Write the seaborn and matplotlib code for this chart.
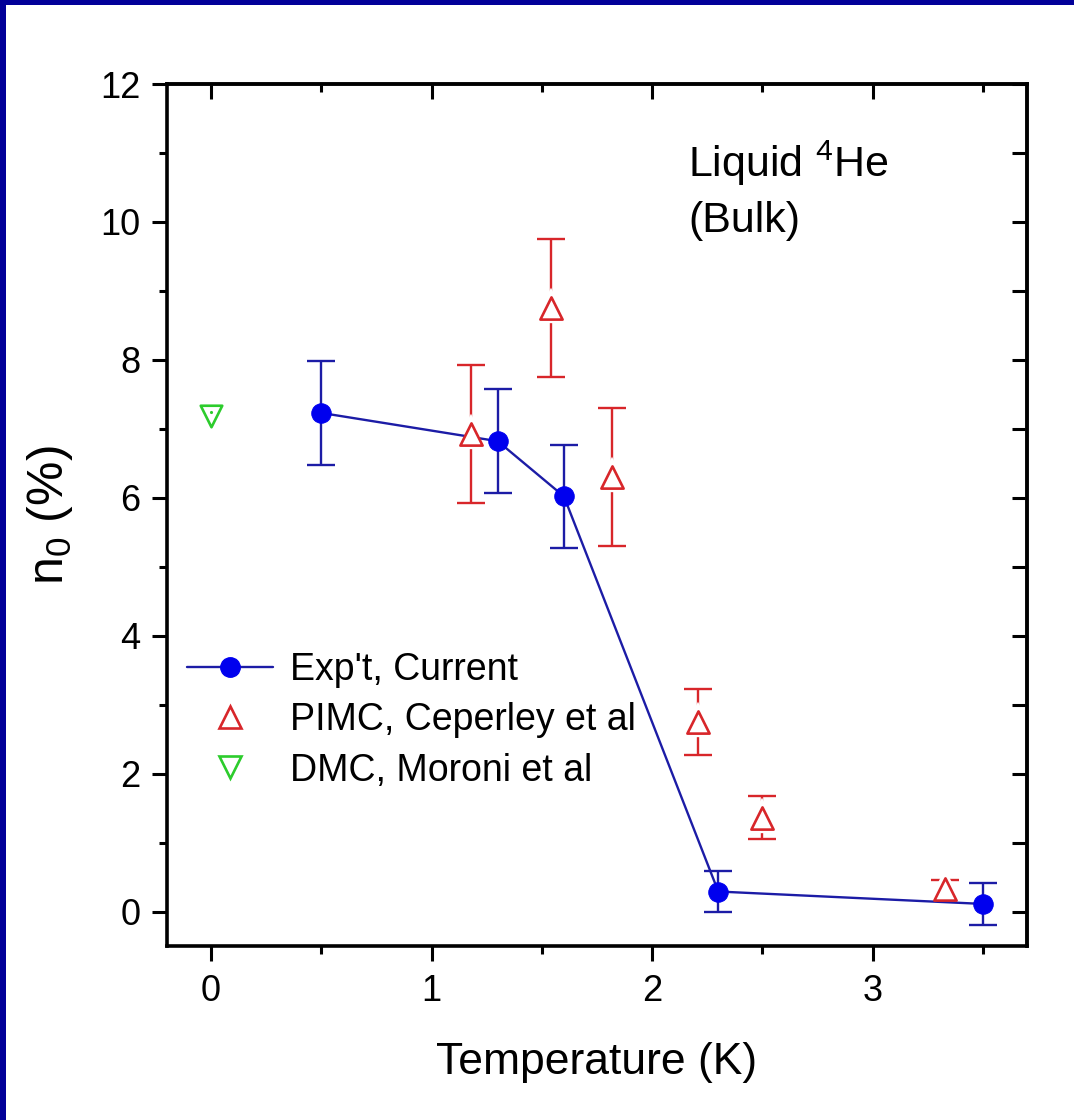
import numpy as np
import pandas as pd
import seaborn as sns
import matplotlib
matplotlib.use("Agg")
import matplotlib.pyplot as plt
from matplotlib.lines import Line2D
from matplotlib.patches import Rectangle
from matplotlib.ticker import MultipleLocator

# ---------------- data ----------------
exp_T = [0.50, 1.30, 1.60, 2.30, 3.50]
exp_n0 = [7.23, 6.82, 6.02, 0.29, 0.11]
exp_err = [0.75, 0.75, 0.75, 0.30, 0.30]

pimc_T = [1.18, 1.54, 1.82, 2.21, 2.50, 3.33]
pimc_n0 = [6.93, 8.75, 6.30, 2.75, 1.36, 0.32]
pimc_err = [1.00, 1.00, 1.00, 0.48, 0.31, 0.14]

dmc_T = [0.0]
dmc_n0 = [7.18]

labels = ["Exp't, Current", "PIMC, Ceperley et al", "DMC, Moroni et al"]
x_ticks = [0, 1, 2, 3]
y_ticks = [0, 2, 4, 6, 8, 10, 12]

# ---------------- style ----------------
sns.set_theme(style="ticks")
plt.rcParams["font.family"] = ["Liberation Sans", "DejaVu Sans"]
plt.rcParams["mathtext.fontset"] = "custom"
plt.rcParams["mathtext.rm"] = "Liberation Sans"
plt.rcParams["mathtext.it"] = "Liberation Sans:italic"
plt.rcParams["mathtext.bf"] = "Liberation Sans:bold"
for k in ["text.color", "axes.labelcolor", "xtick.color", "ytick.color",
          "xtick.labelcolor", "ytick.labelcolor"]:
    plt.rcParams[k] = "black"

BLUE_M = "#0000ee"
BLUE_L = "#1c1ca6"
RED = "#d8262a"
GREEN = "#2ccc2c"
NAVY = "#020099"

W, H = 1074, 1120
fig = plt.figure(figsize=(W / 100, H / 100), dpi=100)
fig.patch.set_facecolor("white")

L, R, T, B = 167, 1027, 84, 946
ax = fig.add_axes([L / W, 1 - B / H, (R - L) / W, (B - T) / H])
ax.set_facecolor("white")

# error bars
ax.errorbar(exp_T, exp_n0, yerr=exp_err, fmt="none", ecolor=BLUE_L,
            elinewidth=1.7, capsize=10, capthick=1.7, zorder=2)
ax.errorbar(pimc_T, pimc_n0, yerr=pimc_err, fmt="none", ecolor=RED,
            elinewidth=1.7, capsize=10, capthick=1.7, zorder=2)

# experimental line + markers
df_exp = pd.DataFrame({"T": exp_T, "n0": exp_n0})
sns.lineplot(data=df_exp, x="T", y="n0", ax=ax, color=BLUE_L, linewidth=1.7,
             marker="o", markersize=14, markerfacecolor=BLUE_M,
             markeredgecolor=BLUE_M, zorder=4, sort=False)

# PIMC hollow triangles with white halo
ax.plot(pimc_T, pimc_n0, linestyle="none", marker="^", markersize=16,
        markerfacecolor="white", markeredgecolor="white", markeredgewidth=6,
        zorder=3)
df_pimc = pd.DataFrame({"T": pimc_T, "n0": pimc_n0})
sns.scatterplot(data=df_pimc, x="T", y="n0", ax=ax, marker="^", s=256,
                facecolor="white", edgecolor=RED, linewidth=1.9, zorder=5)

# DMC
df_dmc = pd.DataFrame({"T": dmc_T, "n0": dmc_n0})
sns.scatterplot(data=df_dmc, x="T", y="n0", ax=ax, marker="v", s=240,
                facecolor="white", edgecolor=GREEN, linewidth=1.9, zorder=5)
ax.plot(dmc_T, [v + 0.06 for v in dmc_n0], linestyle="none", marker=".",
        markersize=2.5, color=GREEN, zorder=6)

# axes
ax.set_xlim(-0.2, 3.7)
ax.set_ylim(-0.5, 12)
ax.set_xticks(x_ticks)
ax.set_yticks(y_ticks)
ax.xaxis.set_minor_locator(MultipleLocator(0.5))
ax.yaxis.set_minor_locator(MultipleLocator(1))
for s in ax.spines.values():
    s.set_visible(True)
    s.set_linewidth(2.6)
    s.set_color("black")
ax.tick_params(axis="both", which="major", direction="out", length=11,
               width=2.2, labelsize=26, colors="black", top=False, right=False)
ax.tick_params(axis="x", which="major", pad=9)
ax.tick_params(axis="y", which="major", pad=8)
ax.tick_params(axis="both", which="minor", direction="out", length=6,
               width=2.2, top=False, right=False)

secx = ax.secondary_xaxis("top")
secx.set_xticks(x_ticks)
secx.xaxis.set_minor_locator(MultipleLocator(0.5))
secx.tick_params(which="major", direction="in", length=11, width=2.2,
                 labeltop=False)
secx.tick_params(which="minor", direction="in", length=6, width=2.2)
secx.spines["top"].set_linewidth(2.6)

secy = ax.secondary_yaxis("right")
secy.set_yticks(list(range(0, 13)))
secy.tick_params(which="major", direction="in", length=11, width=2.2,
                 labelright=False)
secy.spines["right"].set_linewidth(2.6)

ax.set_xlabel("Temperature (K)", fontsize=32, labelpad=24, color="black")
ax.set_ylabel(r"n$_\mathregular{0}$ (%)", fontsize=36, labelpad=18,
              color="black")

# annotation
fig.text(688 / W, 1 - 176.7 / H, r"Liquid $\mathregular{^4}$He", fontsize=31,
         va="baseline", ha="left", color="black")
fig.text(688 / W, 1 - 231.7 / H, "(Bulk)", fontsize=31,
         va="baseline", ha="left", color="black")

# legend
handles = [
    Line2D([], [], color=BLUE_L, lw=1.7, marker="o", markersize=14,
           markerfacecolor=BLUE_M, markeredgecolor=BLUE_M),
    Line2D([], [], linestyle="none", marker="^", markersize=16,
           markerfacecolor="white", markeredgecolor=RED, markeredgewidth=1.9),
    Line2D([], [], linestyle="none", marker="v", markersize=15.5,
           markerfacecolor="white", markeredgecolor=GREEN, markeredgewidth=1.9),
]
ax.legend(handles, labels, loc="upper left",
          bbox_to_anchor=(187 / W, 1 - 652 / H), bbox_transform=fig.transFigure,
          frameon=False, fontsize=27, borderpad=0, borderaxespad=0,
          handlelength=2.3, handletextpad=0.45, labelspacing=0.38, numpoints=1,
          labelcolor="black")

# navy frame strips
fig.patches.append(Rectangle((0, 1 - 5 / H), 1, 5 / H, transform=fig.transFigure,
                             facecolor=NAVY, edgecolor="none", zorder=10))
fig.patches.append(Rectangle((0, 0), 6 / W, 1, transform=fig.transFigure,
                             facecolor=NAVY, edgecolor="none", zorder=10))

fig.savefig("out.png", dpi=100, facecolor="white")
